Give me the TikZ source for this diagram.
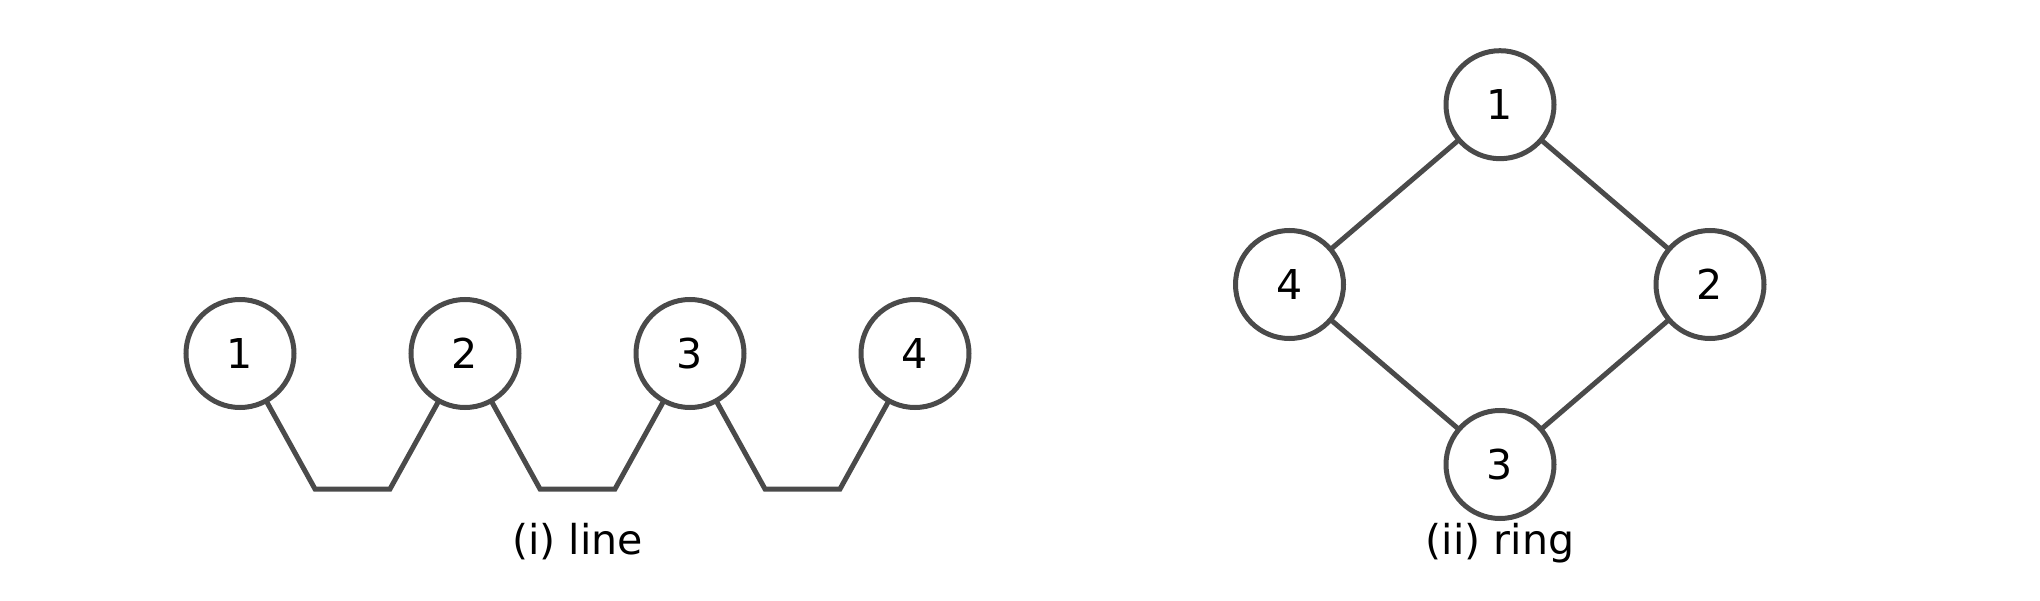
\documentclass[tikz,border=0pt]{standalone}
\usepackage{fontspec}
\setmainfont{DejaVu Sans}
\usepackage{xcolor}
\usepackage{tikz}
\usetikzlibrary{positioning,calc}
\definecolor{edgegray}{RGB}{74,74,74}

\begin{document}
\begin{tikzpicture}[
                every node/.style={font=\fontsize{11.7}{14}\selectfont},
                vertex/.style={circle, draw=edgegray, line width=0.05cm, minimum size=1.08cm, inner sep=0pt, outer sep=0pt, fill=white},
                link/.style={draw=edgegray, line width=0.05cm},
                caption/.style={anchor=base, inner sep=0pt}
            ]
                \useasboundingbox (0,0) rectangle (20.4,6);

                % (i) line: four nodes side by side
                \node[vertex] (l1) at (2.40,2.465) {1};
                \node[vertex, right=1.17cm of l1] (l2) {2};
                \node[vertex, right=1.17cm of l2] (l3) {3};
                \node[vertex, right=1.17cm of l3] (l4) {4};

                % links dip down between neighbours
                \draw[link] (l1) -- ($(l1)!0.5!(l2)+(-0.375,-1.355)$) -- ($(l1)!0.5!(l2)+(0.375,-1.355)$) -- (l2);
                \draw[link] (l2) -- ($(l2)!0.5!(l3)+(-0.375,-1.355)$) -- ($(l2)!0.5!(l3)+(0.375,-1.355)$) -- (l3);
                \draw[link] (l3) -- ($(l3)!0.5!(l4)+(-0.375,-1.355)$) -- ($(l3)!0.5!(l4)+(0.375,-1.355)$) -- (l4);

                \node[caption] (capline) at (5.775,0.46) {(i) line};

                % (ii) ring: diamond of four nodes
                \node[vertex] (r1) at (15.00,4.953) {1};
                \node[vertex] (r2) at (17.10,3.155) {2};
                \node[vertex] (r3) at (15.00,1.355) {3};
                \node[vertex] (r4) at (12.895,3.155) {4};

                \draw[link] (r1) -- (r2);
                \draw[link] (r2) -- (r3);
                \draw[link] (r3) -- (r4);
                \draw[link] (r4) -- (r1);

                \node[caption] (capring) at (15.00,0.46) {(ii) ring};

            \end{tikzpicture}
\end{document}
